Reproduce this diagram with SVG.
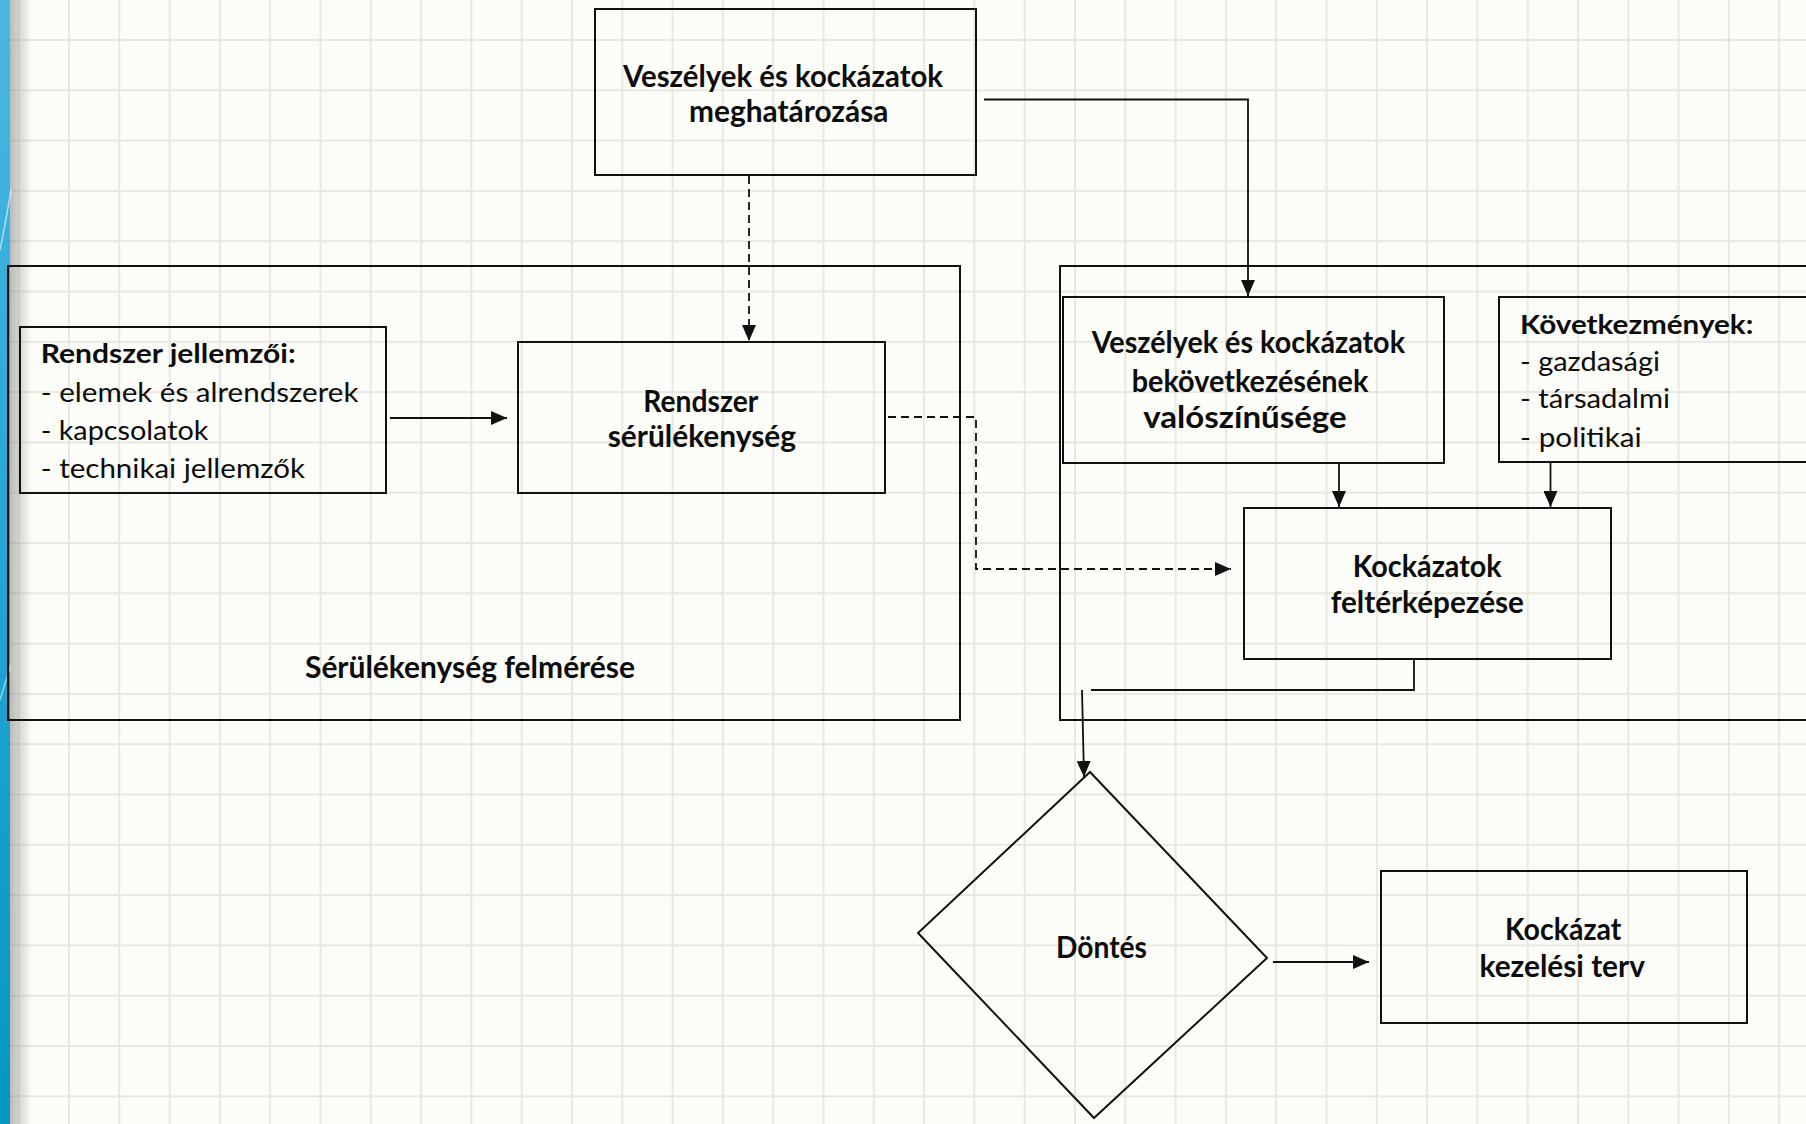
<svg xmlns="http://www.w3.org/2000/svg" width="1806" height="1124" viewBox="0 0 1806 1124">
  <style>
    .box { fill: none; stroke: #111; stroke-width: 2; }
    .conn { fill: none; stroke: #111; stroke-width: 1.8; }
    .dash { stroke-dasharray: 8 5; }
    .t { font-family: Lato, "Open Sans", "Liberation Sans", sans-serif; fill: #0d0d0d; }
    .b { font-weight: 700; font-size: 29.5px; }
    .bs { font-weight: 700; font-size: 26.5px; }
    .r { font-weight: 400; font-size: 27.5px; }
  </style>
  <defs>
    <pattern id="grid" patternUnits="userSpaceOnUse" x="68" y="39" width="50.3" height="50.3">
      <rect x="0" y="0" width="50.3" height="2" fill="#e8e8e3"/>
      <rect x="0" y="0" width="2" height="50.3" fill="#e8e8e3"/>
    </pattern>
    <linearGradient id="strip" x1="0" y1="0" x2="0" y2="1">
      <stop offset="0" stop-color="#4db7e0"/>
      <stop offset="0.5" stop-color="#23a6d6"/>
      <stop offset="1" stop-color="#0596c4"/>
    </linearGradient>
    <linearGradient id="shadow" x1="0" y1="0" x2="1" y2="0">
      <stop offset="0" stop-color="#6b6b6b" stop-opacity="0.45"/>
      <stop offset="1" stop-color="#6b6b6b" stop-opacity="0"/>
    </linearGradient>
    <marker id="arr" markerUnits="userSpaceOnUse" markerWidth="16" markerHeight="14" refX="16" refY="7" orient="auto">
      <path d="M0,0 L16,7 L0,14 z" fill="#111" stroke="none"/>
    </marker>
  </defs>

  <g id="background">
    <rect x="0" y="0" width="1806" height="1124" fill="#fcfcf8"/>
    <rect x="0" y="0" width="1806" height="1124" fill="url(#grid)"/>
    <rect x="10" y="0" width="22" height="1124" fill="url(#shadow)"/>
    <rect x="0" y="0" width="10" height="1124" fill="url(#strip)"/>
    <path d="M0,250 Q7,215 11,190" fill="none" stroke="#ffffff" stroke-width="1.5" opacity="0.6"/>
    <path d="M0,700 Q6,680 11,665" fill="none" stroke="#ffffff" stroke-width="1.5" opacity="0.5"/>
  </g>

  <g id="container-serulekenyseg">
    <rect class="box" x="8" y="266" width="952" height="454"/>
    <text class="t b" x="305" y="678.3" textLength="330" lengthAdjust="spacingAndGlyphs">Sérülékenység felmérése</text>
  </g>

  <g id="container-kockazat">
    <rect class="box" x="1060" y="266" width="800" height="454"/>
  </g>

  <g id="node-veszelyek-meghatarozasa">
    <rect class="box" x="595" y="9" width="381" height="166"/>
    <text class="t b" x="623" y="86.5" textLength="320" lengthAdjust="spacingAndGlyphs">Veszélyek és kockázatok</text>
    <text class="t b" x="689" y="121.5" textLength="199.5" lengthAdjust="spacingAndGlyphs">meghatározása</text>
  </g>

  <g id="node-rendszer-jellemzoi">
    <rect class="box" x="20" y="327" width="366" height="166"/>
    <text class="t bs" x="40.7" y="363.3" textLength="255" lengthAdjust="spacingAndGlyphs">Rendszer jellemzői:</text>
    <text class="t r" x="40.7" y="401.7" textLength="317.7" lengthAdjust="spacingAndGlyphs">- elemek és alrendszerek</text>
    <text class="t r" x="40.7" y="440" textLength="167.7" lengthAdjust="spacingAndGlyphs">- kapcsolatok</text>
    <text class="t r" x="40.7" y="478" textLength="264.3" lengthAdjust="spacingAndGlyphs">- technikai jellemzők</text>
  </g>

  <g id="node-rendszer-serulekenyseg">
    <rect class="box" x="518" y="342" width="367" height="151"/>
    <text class="t b" x="643.3" y="411.7" textLength="115" lengthAdjust="spacingAndGlyphs">Rendszer</text>
    <text class="t b" x="607.7" y="446.7" textLength="188.3" lengthAdjust="spacingAndGlyphs">sérülékenység</text>
  </g>

  <g id="node-bekovetkezes">
    <rect class="box" x="1063" y="297" width="381" height="166"/>
    <text class="t b" x="1091.7" y="353.3" textLength="313.3" lengthAdjust="spacingAndGlyphs">Veszélyek és kockázatok</text>
    <text class="t b" x="1131.7" y="391.7" textLength="236.7" lengthAdjust="spacingAndGlyphs">bekövetkezésének</text>
    <text class="t b" x="1143.3" y="428.3" textLength="203.3" lengthAdjust="spacingAndGlyphs">valószínűsége</text>
  </g>

  <g id="node-kovetkezmenyek">
    <rect class="box" x="1499" y="297" width="400" height="165"/>
    <text class="t bs" x="1520" y="334.3" textLength="233.3" lengthAdjust="spacingAndGlyphs">Következmények:</text>
    <text class="t r" x="1520" y="371" textLength="140" lengthAdjust="spacingAndGlyphs">- gazdasági</text>
    <text class="t r" x="1520" y="408.3" textLength="150" lengthAdjust="spacingAndGlyphs">- társadalmi</text>
    <text class="t r" x="1520" y="446.7" textLength="121.7" lengthAdjust="spacingAndGlyphs">- politikai</text>
  </g>

  <g id="node-kockazatok-felterkepezese">
    <rect class="box" x="1244" y="508" width="367" height="151"/>
    <text class="t b" x="1352.7" y="577.3" textLength="149" lengthAdjust="spacingAndGlyphs">Kockázatok</text>
    <text class="t b" x="1330.7" y="613.3" textLength="193.3" lengthAdjust="spacingAndGlyphs">feltérképezése</text>
  </g>

  <g id="node-dontes">
    <polygon class="box" points="1090,772 1267,958 1094,1118 918,933" stroke-width="1.8"/>
    <text class="t b" x="1056" y="958" textLength="91" lengthAdjust="spacingAndGlyphs">Döntés</text>
  </g>

  <g id="node-kezelesi-terv">
    <rect class="box" x="1381" y="871" width="366" height="152"/>
    <text class="t b" x="1505" y="940" textLength="116.4" lengthAdjust="spacingAndGlyphs">Kockázat</text>
    <text class="t b" x="1479.5" y="976.7" textLength="165.4" lengthAdjust="spacingAndGlyphs">kezelési terv</text>
  </g>

  <g id="connectors">
    <path class="conn dash" d="M749,176 V341" marker-end="url(#arr)"/>
    <path class="conn" d="M984,99.5 H1248 V296" marker-end="url(#arr)"/>
    <path class="conn" d="M390,418 H507" marker-end="url(#arr)"/>
    <path class="conn dash" d="M888,417 H976 V569 H1231" marker-end="url(#arr)"/>
    <path class="conn" d="M1339,463 V507" marker-end="url(#arr)"/>
    <path class="conn" d="M1550.5,462 V507" marker-end="url(#arr)"/>
    <path class="conn" d="M1414,659 V690 H1091"/>
    <path class="conn" d="M1082,690 L1084,777" marker-end="url(#arr)"/>
    <path class="conn" d="M1273,962 H1369" marker-end="url(#arr)"/>
  </g>
</svg>
